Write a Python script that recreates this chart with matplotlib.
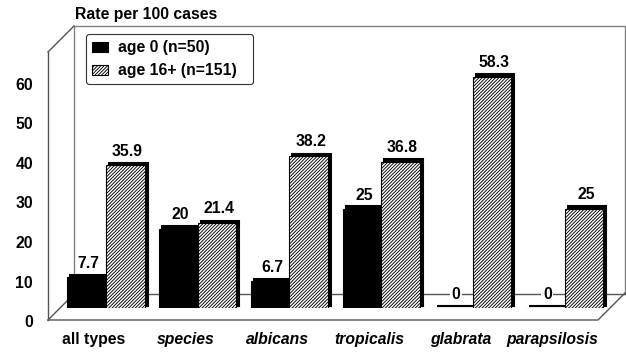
import matplotlib
matplotlib.use("Agg")
import matplotlib.pyplot as plt
import matplotlib.transforms as mtransforms
import numpy as np

categories = ["all types", "species", "albicans", "tropicalis", "glabrata", "parapsilosis"]
italic_flags = [False, True, True, True, True, True]
age0 = [7.7, 20, 6.7, 25, 0, 0]
age16 = [35.9, 21.4, 38.2, 36.8, 58.3, 25]
age0_labels = ["7.7", "20", "6.7", "25", "0", "0"]
age16_labels = ["35.9", "21.4", "38.2", "36.8", "58.3", "25"]
series_names = ["age 0 (n=50)", "age 16+ (n=151)"]
yticks = [0, 10, 20, 30, 40, 50, 60]
ylabel_text = "Rate per 100 cases"

plt.rcParams['font.family'] = ['Liberation Sans', 'DejaVu Sans']
plt.rcParams['hatch.linewidth'] = 0.65
FS = 11.3

W, H = 626, 352
fig = plt.figure(figsize=(W / 100, H / 100), dpi=100)

# background 3D box (decoration, pixel coordinates)
bg = fig.add_axes([0, 0, 1, 1], zorder=0)
bg.set_xlim(0, W)
bg.set_ylim(H, 0)
bg.axis('off')
wall_c = '#555555'
bg.plot([74, 625, 625], [26, 26, 294], color='#808080', lw=1)
bg.plot([74, 74], [26, 294], color='#808080', lw=1)
bg.plot([74, 625], [294, 294], color=wall_c, lw=1)
bg.plot([48, 74], [52, 26], color=wall_c, lw=1)
bg.plot([48, 48], [52, 320], color=wall_c, lw=1)
bg.plot([48, 74], [320, 294], color=wall_c, lw=1)
bg.plot([48, 598, 625], [320, 320, 293], color=wall_c, lw=1)

# main bar axes
px_per_unit = 3.97
ax_bottom = (H - 308) / H
ymax = 70
ax = fig.add_axes([0, ax_bottom, 1, ymax * px_per_unit / H], zorder=1)
ax.set_facecolor('none')
ax.set_frame_on(False)
group_px = 91.7
x0_px = 106
ax.set_xlim(-x0_px / group_px, (W - x0_px) / group_px)
ax.set_ylim(0, ymax)

x = np.arange(len(categories))
w = 0.42
shadow = mtransforms.offset_copy(ax.transData, fig=fig, x=3.0, y=2.5, units='dots')

ax.bar(x - w / 2, age0, w, color='black', edgecolor='black', lw=1.5, transform=shadow, zorder=2)
ax.bar(x + w / 2, age16, w, color='black', edgecolor='black', lw=1.5, transform=shadow, zorder=2)
b0 = ax.bar(x - w / 2, age0, w, color='black', edgecolor='black', lw=0.8, zorder=3,
            label=series_names[0])
b1 = ax.bar(x + w / 2, age16, w, color='white', edgecolor='black', lw=0.8, hatch='//////////',
            zorder=3, label=series_names[1])

for xi, v, t in zip(x - w / 2, age0, age0_labels):
    ax.annotate(t, (xi, v), xytext=(1.5, 4.5), textcoords='offset points', ha='center',
                va='bottom', fontsize=FS, fontweight='bold', zorder=4,
                bbox=dict(boxstyle='square,pad=0.1', fc='white', ec='none'))
for xi, v, t in zip(x + w / 2, age16, age16_labels):
    ax.annotate(t, (xi, v), xytext=(1.5, 5.0), textcoords='offset points', ha='center',
                va='bottom', fontsize=FS, fontweight='bold', zorder=4)

ax.set_yticks([])
ax.set_xticks(x)
ax.set_xticklabels(categories)
ax.tick_params(axis='x', length=0, pad=17)
shift = mtransforms.ScaledTranslation(-12 / 100, 0, fig.dpi_scale_trans)
for lab, it in zip(ax.get_xticklabels(), italic_flags):
    lab.set_fontsize(FS)
    lab.set_fontweight('bold')
    lab.set_fontstyle('italic' if it else 'normal')
    lab.set_transform(lab.get_transform() + shift)

leg = ax.legend(handles=[b0, b1], loc='upper left',
                bbox_to_anchor=(86 / W, 1 - 84 / H, 167 / W, 50 / H), mode='expand',
                bbox_transform=fig.transFigure, borderaxespad=0, frameon=True, fancybox=True,
                framealpha=1, edgecolor='#333333',
                prop={'size': FS, 'weight': 'bold'}, borderpad=0.4, handlelength=1.0,
                handleheight=0.6, handletextpad=0.65, labelspacing=0.5)
leg.get_frame().set_linewidth(0.8)

# front-plane y axis tick labels
ax2 = fig.add_axes([40 / W, (H - 321) / H, 0.01, 237 / H], zorder=1)
ax2.set_facecolor('none')
ax2.set_frame_on(False)
ax2.set_ylim(0, 60)
ax2.set_xticks([])
ax2.set_yticks(yticks)
ax2.set_yticklabels([str(t) for t in yticks], fontsize=FS, fontweight='bold')
ax2.tick_params(axis='y', length=0, pad=5)

fig.text(75 / W, 1 - 14 / H, ylabel_text, ha='left', va='center', fontsize=FS,
         fontweight='bold')

fig.savefig('out.png', dpi=100)
